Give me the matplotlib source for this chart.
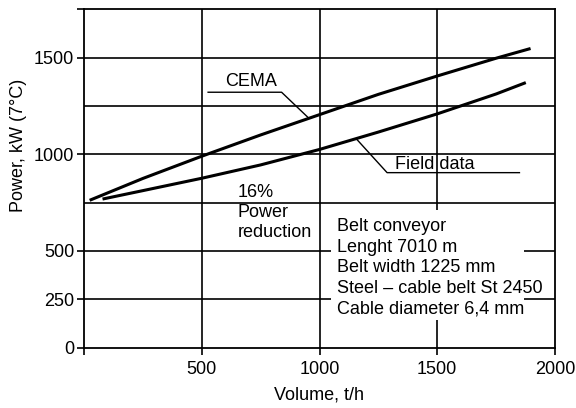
import matplotlib
matplotlib.use("Agg")
import matplotlib.pyplot as plt
from matplotlib.patches import Rectangle

plt.rcParams['font.family'] = ['Liberation Sans', 'DejaVu Sans']
plt.rcParams['font.size'] = 13

# values
volume_cema = [30, 250, 500, 750, 1000, 1250, 1500, 1750, 1890]
power_cema = [765, 875, 990, 1100, 1205, 1310, 1405, 1497, 1545]
volume_field = [85, 250, 500, 750, 1000, 1250, 1500, 1750, 1870]
power_field = [770, 812, 876, 945, 1025, 1115, 1209, 1312, 1368]

x_ticks = [0, 500, 1000, 1500, 2000]
x_labels = ["", "500", "1000", "1500", "2000"]
y_ticks = [0, 250, 500, 1000, 1500, 1750]
y_labels = ["0", "250", "500", "1000", "1500", ""]
y_grid = [250, 500, 750, 1000, 1250, 1500]
x_grid = [500, 1000, 1500]

info = ["Belt conveyor", "Lenght 7010 m", "Belt width 1225 mm",
        "Steel \u2013 cable belt St 2450", "Cable diameter 6,4 mm"]

fig = plt.figure(figsize=(5.76, 4.08), dpi=100)
ax = fig.add_axes([84/576, 1-347.6/408, (555-84)/576, (347.6-9.3)/408])
ax.set_xlim(0, 2000)
ax.set_ylim(0, 1750)

for v in y_grid:
    ax.axhline(v, color='black', lw=1.2, zorder=1)
for v in x_grid:
    ax.axvline(v, color='black', lw=1.2, zorder=1)

ax.plot(volume_cema, power_cema, color='black', lw=2.2, zorder=3)
ax.plot(volume_field, power_field, color='black', lw=2.2, zorder=3)

for s in ax.spines.values():
    s.set_linewidth(1.3)

ax.set_xticks(x_ticks)
ax.set_xticklabels(x_labels)
ax.set_yticks(y_ticks)
ax.set_yticklabels(y_labels)
ax.tick_params(axis='x', direction='out', length=5, width=1.2, pad=5)
ax.tick_params(axis='y', direction='out', length=5, width=1.2, pad=2)

ax.set_xlabel("Volume, t/h", labelpad=6)
ax.text(-0.139, 0.599, "Power, kW (7\u00b0C)", transform=ax.transAxes,
        rotation=90, ha='center', va='center')

# CEMA label with leader
ax.text(710, 1375, "CEMA", ha='center', va='center', zorder=4)
ax.plot([527, 839, 950], [1321, 1321, 1192], color='black', lw=1.0, zorder=4)

# Field data label with leader
ax.text(1319, 945, "Field data", ha='left', va='center', zorder=4)
ax.plot([1849, 1287, 1160], [905, 905, 1075], color='black', lw=1.0, zorder=4)

ax.text(653, 697, "16%\nPower\nreduction", ha='left', va='center',
        linespacing=1.23, zorder=4)

# white area behind the conveyor data
ax.add_patch(Rectangle((1050, 143), 817, 569, facecolor='white',
                       edgecolor='none', zorder=2))
ax.text(1076, 414, "\n".join(info), ha='left', va='center',
        linespacing=1.27, zorder=4)

fig.savefig("out.png", dpi=100)
